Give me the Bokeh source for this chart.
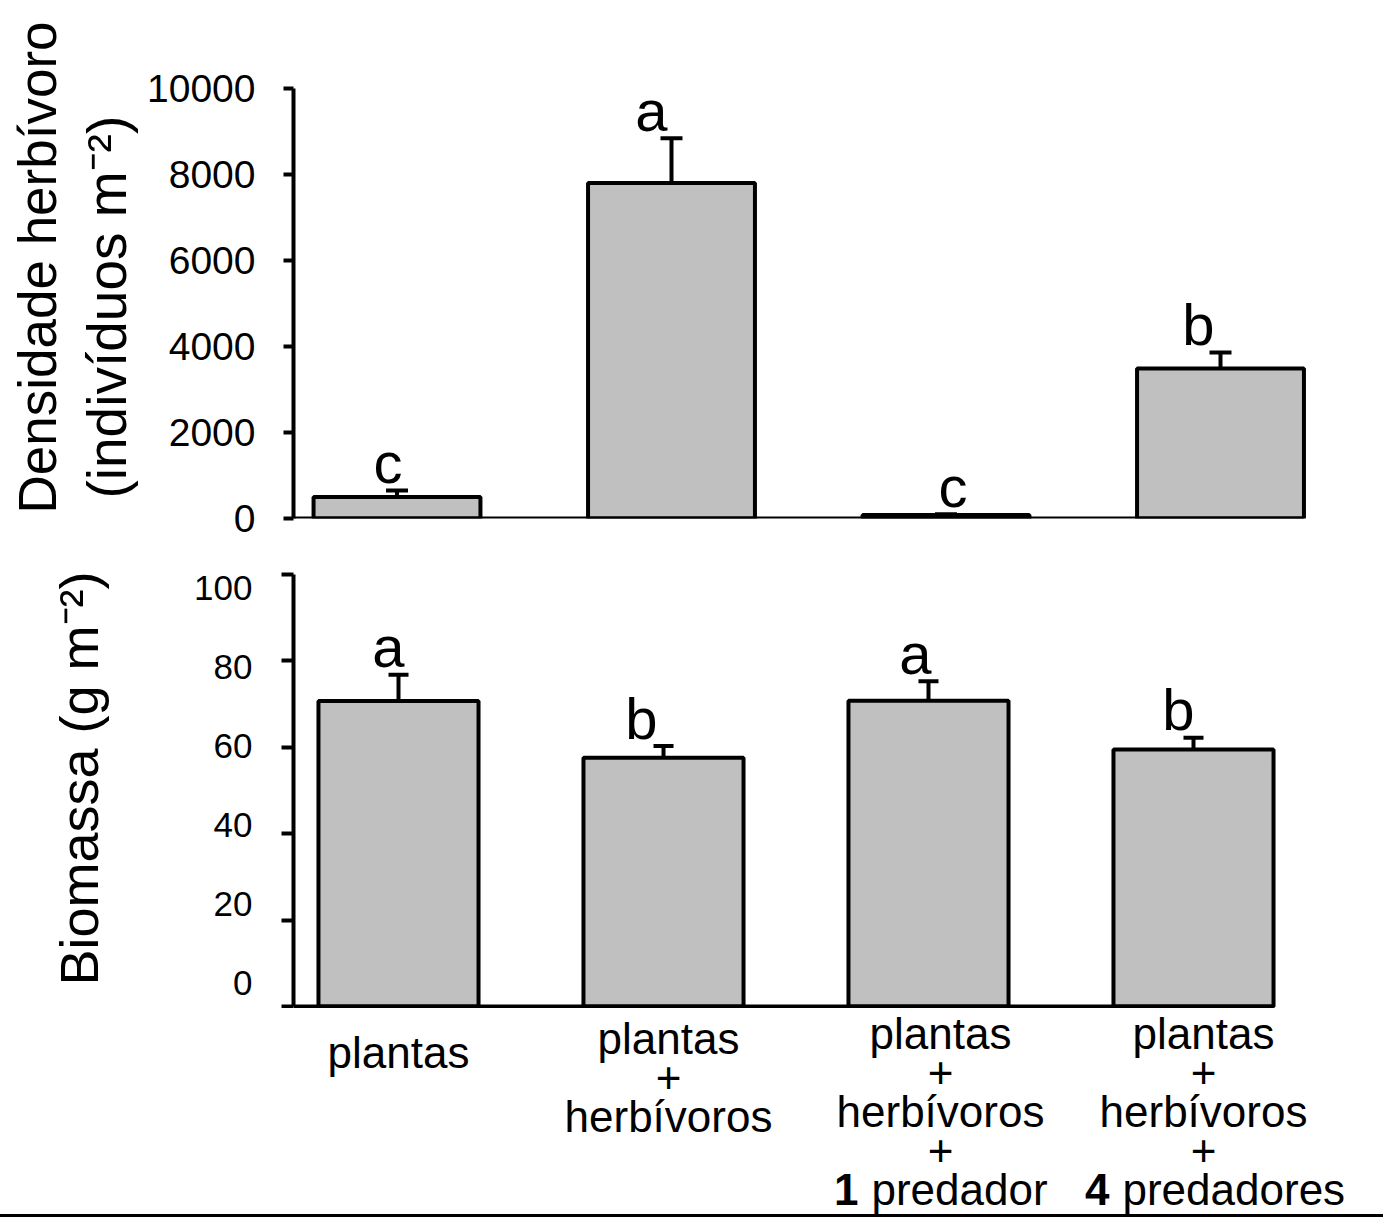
from bokeh.plotting import figure
from bokeh.models import (Range1d, FixedTicker, LinearAxis, Title, Whisker,
                          TeeHead, ColumnDataSource, Div)
from bokeh.layouts import column
from bokeh.embed import file_html
from bokeh.resources import INLINE
from bokeh.core.properties import value

# ---------------- data ----------------
treatments = ["plantas",
              "plantas + herbívoros",
              "plantas + herbívoros + 1 predador",
              "plantas + herbívoros + 4 predadores"]
label_lines = [["plantas"],
               ["plantas", "+", "herbívoros"],
               ["plantas", "+", "herbívoros", "+"],
               ["plantas", "+", "herbívoros", "+"]]
predator_number = ["", "", "1", "4"]
predator_word = ["", "", "predador", "predadores"]

density_mean = [500, 7800, 80, 3490]
density_err = [150, 1040, 20, 370]
density_letters = ["c", "a", "c", "b"]
density_ticks = [0, 2000, 4000, 6000, 8000, 10000]

biomass_mean = [70.7, 57.6, 70.8, 59.5]
biomass_err = [6.1, 2.7, 4.5, 2.7]
biomass_letters = ["a", "b", "a", "b"]
biomass_ticks = [0, 20, 40, 60, 80, 100]

# ---------------- layout / style ----------------
FONT = "Liberation Sans"
W = 1383
GREY = "#c0c0c0"
xs = list(range(len(treatments)))

BORDER_L = 293               # all frames start at page x = 293
FRAME_W = W - BORDER_L       # frames run to the right edge of the figure

# top panel geometry (page px)
BAR_W1 = 0.608
PPU_X1 = 274.5
X1_START = -(396.5 - BORDER_L) / PPU_X1
X1_END = X1_START + FRAME_W / PPU_X1
Y1_END = 10650
P1_TOP, P1_FRAME_H, P1_BOTTOM = 60, 458, 30
P1_H = P1_TOP + P1_FRAME_H + P1_BOTTOM            # 548

# bottom panel geometry (page px)
BAR_W2 = 0.604
PPU_X2 = 265.0
X2_START = -(398 - BORDER_L) / PPU_X2
X2_END = X2_START + FRAME_W / PPU_X2
PPU_Y2 = 4.32
ZERO2_PX = 1006                                   # page px of biomass 0
FRAME2_TOP = P1_H                                 # 548
FRAME2_BOTTOM = 1008
FRAME2_H = FRAME2_BOTTOM - FRAME2_TOP
Y2_START = -(FRAME2_BOTTOM - ZERO2_PX) / PPU_Y2
Y2_END = Y2_START + FRAME2_H / PPU_Y2

# tick labels of the biomass axis sit on their own (slightly compressed) scale
LAB_100_PX, LAB_0_PX = 587, 982
LAB_PPU = (LAB_0_PX - LAB_100_PX) / 100.0
LAB_END = 100 + (LAB_100_PX - FRAME2_TOP) / LAB_PPU
LAB_START = LAB_END - FRAME2_H / LAB_PPU

# category label strip (page px)
P3_TOP, P3_BOTTOM = FRAME2_BOTTOM, 1214
RULE_H = 3

letter_dx1 = [-9, -20, 7, -22]
letter_dx2 = [-10, -22, -13, -15]
LETTER_DY = -28
label_first_center = [1052, 1038, 1033, 1033]
LINE_STEP = 39
label_dx = [0, 5, 12, 10]
split_dx = [0, 0, -70, -84]
SPACE_PX = 13


def style_axis(ax, tick_out):
    ax.axis_line_width = 4
    ax.axis_line_color = "black"
    ax.major_tick_line_width = 4
    ax.major_tick_line_color = "black"
    ax.major_tick_out = tick_out
    ax.major_tick_in = 0
    ax.minor_tick_line_color = None
    ax.major_label_text_color = "black"
    ax.major_label_text_font = FONT


# ---------------- top panel ----------------
p1 = figure(width=W, height=P1_H,
            x_range=Range1d(X1_START, X1_END), y_range=Range1d(0, Y1_END),
            x_axis_location=None, min_border_left=BORDER_L, min_border_right=0,
            min_border_top=P1_TOP, min_border_bottom=P1_BOTTOM,
            toolbar_location=None, output_backend="svg", outline_line_color=None)
p1.grid.grid_line_color = None

p1.vbar(x=xs, width=BAR_W1, top=density_mean, bottom=0, fill_color=GREY,
        line_color="black", line_width=4)
p1.segment(x0=[X1_START], y0=[0], x1=[xs[-1] + BAR_W1 / 2], y1=[0],
           line_width=4, line_color="black")

up1 = [m + e for m, e in zip(density_mean, density_err)]
src1 = ColumnDataSource(dict(x=xs, lower=density_mean, upper=up1,
                             letter=density_letters, dx=letter_dx1))
p1.add_layout(Whisker(source=src1, base="x", lower="lower", upper="upper",
                      line_width=4, line_color="black", lower_head=None,
                      upper_head=TeeHead(size=22, line_width=4, line_color="black")))
p1.text(x="x", y="upper", text="letter", source=src1, x_offset="dx", y_offset=LETTER_DY,
        text_align="center", text_baseline="alphabetic", text_font=value(FONT),
        text_font_size="58px", text_color="black")

ya1 = p1.yaxis[0]
style_axis(ya1, 10)
ya1.ticker = FixedTicker(ticks=density_ticks)
ya1.bounds = (0, 10000)
ya1.major_label_text_font_size = "39px"
ya1.major_label_standoff = 28

p1.add_layout(Title(text="(indivíduos  m⁻²)", align="left", offset=20, standoff=14,
                    text_font=FONT, text_font_size="55px", text_font_style="normal",
                    text_color="black"), "left")
p1.add_layout(Title(text="Densidade herbívoro", align="left", offset=5, standoff=0,
                    text_font=FONT, text_font_size="53px", text_font_style="normal",
                    text_color="black"), "left")

# ---------------- bottom panel ----------------
x2_range = Range1d(X2_START, X2_END)
p2 = figure(width=W, height=FRAME2_H, x_range=x2_range,
            y_range=Range1d(Y2_START, Y2_END), min_border_left=BORDER_L,
            min_border_right=0, min_border_top=0, min_border_bottom=0,
            x_axis_location=None, toolbar_location=None, output_backend="svg",
            outline_line_color=None)
p2.grid.grid_line_color = None

p2.vbar(x=xs, width=BAR_W2, top=biomass_mean, bottom=0, fill_color=GREY,
        line_color="black", line_width=4)
p2.segment(x0=[X2_START], y0=[0], x1=[xs[-1] + BAR_W2 / 2], y1=[0],
           line_width=4, line_color="black")

up2 = [m + e for m, e in zip(biomass_mean, biomass_err)]
src2 = ColumnDataSource(dict(x=xs, lower=biomass_mean, upper=up2,
                             letter=biomass_letters, dx=letter_dx2))
p2.add_layout(Whisker(source=src2, base="x", lower="lower", upper="upper",
                      line_width=4, line_color="black", lower_head=None,
                      upper_head=TeeHead(size=20, line_width=4, line_color="black")))
p2.text(x="x", y="upper", text="letter", source=src2, x_offset="dx", y_offset=LETTER_DY,
        text_align="center", text_baseline="alphabetic", text_font=value(FONT),
        text_font_size="58px", text_color="black")

# axis line + ticks (labels come from the companion axis below)
ya2 = p2.yaxis[0]
style_axis(ya2, 12)
ya2.ticker = FixedTicker(ticks=biomass_ticks)
ya2.bounds = (0, 100)
ya2.major_label_text_font_size = "1px"
ya2.major_label_text_color = None
ya2.major_label_standoff = 0

p2.extra_y_ranges = {"lab": Range1d(LAB_START, LAB_END)}
lab_axis = LinearAxis(y_range_name="lab", ticker=FixedTicker(ticks=biomass_ticks))
style_axis(lab_axis, 0)
lab_axis.bounds = (0, 100)
lab_axis.axis_line_color = None
lab_axis.major_tick_line_color = None
lab_axis.major_label_text_font_size = "35px"
lab_axis.major_label_standoff = 29
lab_axis.axis_label = "Biomassa (g m⁻²)"
lab_axis.axis_label_standoff = 82
lab_axis.axis_label_text_font = FONT
lab_axis.axis_label_text_font_size = "54px"
lab_axis.axis_label_text_font_style = "normal"
lab_axis.axis_label_text_color = "black"
p2.add_layout(lab_axis, "left")

# ---------------- category labels strip ----------------
p3 = figure(width=W, height=P3_BOTTOM - P3_TOP, x_range=x2_range,
            y_range=Range1d(P3_BOTTOM, P3_TOP), min_border_left=BORDER_L,
            min_border_right=0, min_border_top=0, min_border_bottom=0,
            x_axis_location=None, y_axis_location=None, toolbar_location=None,
            output_backend="svg", outline_line_color=None)
p3.grid.grid_line_color = None

lx, ly, lt, ldx = [], [], [], []
nx, ny, nt, ndx = [], [], [], []
wx, wy, wt, wdx = [], [], [], []
for k, lines in enumerate(label_lines):
    for i, line in enumerate(lines):
        lx.append(xs[k]); ly.append(label_first_center[k] + i * LINE_STEP)
        lt.append(line); ldx.append(label_dx[k])
    if predator_number[k]:
        yy = label_first_center[k] + len(lines) * LINE_STEP
        nx.append(xs[k]); ny.append(yy); nt.append(predator_number[k]); ndx.append(split_dx[k])
        wx.append(xs[k]); wy.append(yy); wt.append(predator_word[k])
        wdx.append(split_dx[k] + SPACE_PX)

common = dict(text_baseline="middle", text_font=value(FONT), text_font_size="44px",
              text_color="black")
p3.text(x="x", y="y", text="t", x_offset="dx",
        source=ColumnDataSource(dict(x=lx, y=ly, t=lt, dx=ldx)), text_align="center", **common)
p3.text(x="x", y="y", text="t", x_offset="dx",
        source=ColumnDataSource(dict(x=nx, y=ny, t=nt, dx=ndx)), text_align="right",
        text_font_style="bold", **common)
p3.text(x="x", y="y", text="t", x_offset="dx",
        source=ColumnDataSource(dict(x=wx, y=wy, t=wt, dx=wdx)), text_align="left", **common)

# thin black rule along the bottom of the picture
rule = Div(text="", width=W, height=RULE_H, margin=(0, 0, 0, 0),
           styles={"background-color": "black", "overflow": "hidden"})

layout = column(p1, p2, p3, rule)
open("out.html", "w").write(file_html(layout, INLINE))
